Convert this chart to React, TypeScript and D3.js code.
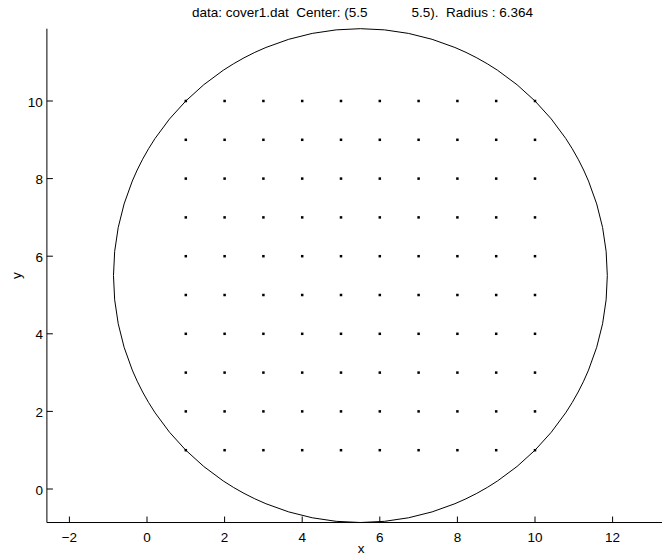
import React from "react";
import * as d3 from "d3";

// Grid of sample points and the enclosing circle
const gridXs = [1, 2, 3, 4, 5, 6, 7, 8, 9, 10];
const gridYs = [1, 2, 3, 4, 5, 6, 7, 8, 9, 10];
const center = [5.5, 5.5];
const radius = 6.364;
const xTicks = [-2, 0, 2, 4, 6, 8, 10, 12];
const yTicks = [0, 2, 4, 6, 8, 10];
const titleLeft = "data: cover1.dat  Center: (5.5";
const titleRight = "5.5).  Radius : 6.364";

const W = 662;
const H = 559;

export default function App() {
  // equal aspect: 38.8 px per unit on both axes
  const x = d3.scaleLinear().domain([0, 12]).range([147, 612.6]);
  const y = d3.scaleLinear().domain([0, 10]).range([489, 101]);
  const left = x(-2.58);
  const bottom = y(center[1] - radius);
  const top = y(center[1] + radius);
  const right = W;

  const points: [number, number][] = [];
  gridYs.forEach((gy) => gridXs.forEach((gx) => points.push([gx, gy])));

  const rPx = x(radius) - x(0);
  const font = "Liberation Sans, Arial, Helvetica, sans-serif";
  const fs = 13.5;

  return (
    <svg
      width={W}
      height={H}
      style={{ position: "absolute", left: 0, top: 0, background: "#fff" }}
      fontFamily={font}
    >
      <rect width={W} height={H} fill="#fff" />
      <circle cx={x(center[0])} cy={y(center[1])} r={rPx} fill="none" stroke="#000" strokeWidth={1} />
      {points.map(([px, py], i) => (
        <rect key={i} x={x(px) - 1.25} y={y(py) - 1.25} width={2.5} height={2.5} fill="#000" />
      ))}
      {/* axes */}
      <line x1={left} x2={right} y1={bottom} y2={bottom} stroke="#000" strokeWidth={1} />
      <line x1={left} x2={left} y1={top} y2={bottom} stroke="#000" strokeWidth={1} />
      {xTicks.map((t) => (
        <g key={"x" + t}>
          <line x1={x(t)} x2={x(t)} y1={bottom} y2={bottom - 6} stroke="#000" />
          <text x={x(t)} y={bottom + 19} fontSize={fs} textAnchor="middle">
            {t < 0 ? "\u2212" + Math.abs(t) : t}
          </text>
        </g>
      ))}
      {yTicks.map((t) => (
        <g key={"y" + t}>
          <line x1={left} x2={left + 6} y1={y(t)} y2={y(t)} stroke="#000" />
          <text x={left - 4} y={y(t) + 5.5} fontSize={fs} textAnchor="end">
            {t}
          </text>
        </g>
      ))}
      <text x={361} y={553} fontSize={fs} textAnchor="middle">x</text>
      <text transform={`translate(21,${(top + bottom) / 2}) rotate(-90)`} fontSize={fs} textAnchor="middle">y</text>
      <text x={192} y={17} fontSize={fs} textAnchor="start" style={{ whiteSpace: "pre" }}>
        {titleLeft}
      </text>
      <text x={533} y={17} fontSize={fs} textAnchor="end" style={{ whiteSpace: "pre" }}>
        {titleRight}
      </text>
    </svg>
  );
}
